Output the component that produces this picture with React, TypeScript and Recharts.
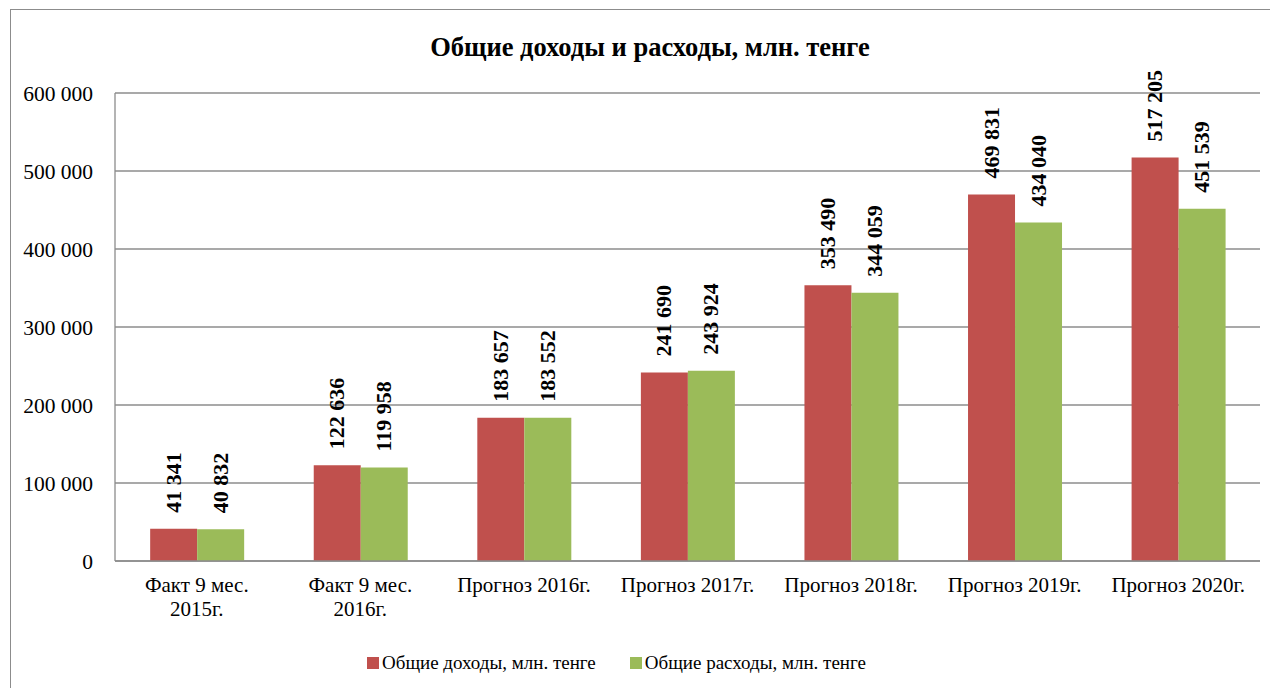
import { BarChart, Bar, XAxis, YAxis, CartesianGrid, Legend, LabelList } from "recharts";

const categories = [
  "Факт 9 мес.\n2015г.",
  "Факт 9 мес.\n2016г.",
  "Прогноз 2016г.",
  "Прогноз 2017г.",
  "Прогноз 2018г.",
  "Прогноз 2019г.",
  "Прогноз 2020г.",
];
const incomes = [41341, 122636, 183657, 241690, 353490, 469831, 517205];
const expenses = [40832, 119958, 183552, 243924, 344059, 434040, 451539];
const yTicks = [0, 100000, 200000, 300000, 400000, 500000, 600000];

const incomeName = "Общие доходы, млн. тенге";
const expenseName = "Общие расходы, млн. тенге";

const FONT = "Liberation Serif, DejaVu Serif, serif";
const RED = "#C0504D";
const GREEN = "#9BBB59";

const data = categories.map((c, i) => ({ cat: c, inc: incomes[i], exp: expenses[i] }));

const fmt = (v: number) => v.toLocaleString("en-US").replace(/,/g, " ");

function CatTick({ x, y, payload }: any) {
  const lines = String(payload.value).split("\n");
  return (
    <text x={x} y={y} textAnchor="middle" fontFamily={FONT} fontSize={21} fill="#000">
      {lines.map((l, i) => (
        <tspan key={i} x={x} dy={i === 0 ? 23 : 24}>
          {l}
        </tspan>
      ))}
    </text>
  );
}

function VLabel({ x, y, width, value }: any) {
  const cx = x + width / 2 + 7;
  const ty = y - 16;
  return (
    <text
      x={cx}
      y={ty}
      transform={`rotate(-90 ${cx} ${ty})`}
      textAnchor="start"
      fontFamily={FONT}
      fontWeight="bold"
      fontSize={22}
      fill="#000"
    >
      {fmt(value)}
    </text>
  );
}

function LegendBox() {
  const item = (color: string, label: string) => (
    <div style={{ display: "flex", alignItems: "center" }}>
      <span style={{ width: 12, height: 12, background: color, marginRight: 3 }} />
      <span>{label}</span>
    </div>
  );
  return (
    <div
      style={{
        display: "flex",
        justifyContent: "center",
        gap: 34,
        fontFamily: FONT,
        fontSize: 19,
        paddingRight: 62,
        paddingTop: 11,
      }}
    >
      {item(RED, incomeName)}
      {item(GREEN, expenseName)}
    </div>
  );
}

export default function App() {
  return (
    <div
      style={{
        position: "relative",
        top: 1,
        marginLeft: 2,
        width: 1268,
        height: 680,
        border: "1px solid #8c8c8c",
        boxSizing: "border-box",
        background: "#fff",
      }}
    >
      <div
        style={{
          position: "absolute",
          left: 0,
          top: 22,
          width: 1278,
          textAlign: "center",
          fontFamily: FONT,
          fontWeight: "bold",
          fontSize: 26.5,
        }}
      >
        Общие доходы и расходы, млн. тенге
      </div>
      <BarChart
        width={1266}
        height={678}
        data={data}
        margin={{ top: 83, right: 17, left: 24, bottom: 17 }}
        barCategoryGap="21.5%"
        barGap={0}
      >
        <CartesianGrid vertical={false} stroke="#8c8c8c" strokeWidth={1.3} />
        <XAxis
          dataKey="cat"
          tick={<CatTick />}
          tickLine={false}
          axisLine={{ stroke: "#8c8c8c", strokeWidth: 1.3 }}
          height={80}
          interval={0}
        />
        <YAxis
          ticks={yTicks}
          domain={[0, 600000]}
          tickFormatter={fmt}
          tickLine={false}
          axisLine={{ stroke: "#8c8c8c", strokeWidth: 1.3 }}
          width={80}
          tickMargin={16}
          tick={{ fontFamily: FONT, fontSize: 21.5, fill: "#000" }}
        />
        <Legend verticalAlign="bottom" height={30} content={<LegendBox />} />
        <Bar dataKey="inc" name={incomeName} fill={RED} isAnimationActive={false}>
          <LabelList dataKey="inc" content={<VLabel />} />
        </Bar>
        <Bar dataKey="exp" name={expenseName} fill={GREEN} isAnimationActive={false}>
          <LabelList dataKey="exp" content={<VLabel />} />
        </Bar>
      </BarChart>
    </div>
  );
}
